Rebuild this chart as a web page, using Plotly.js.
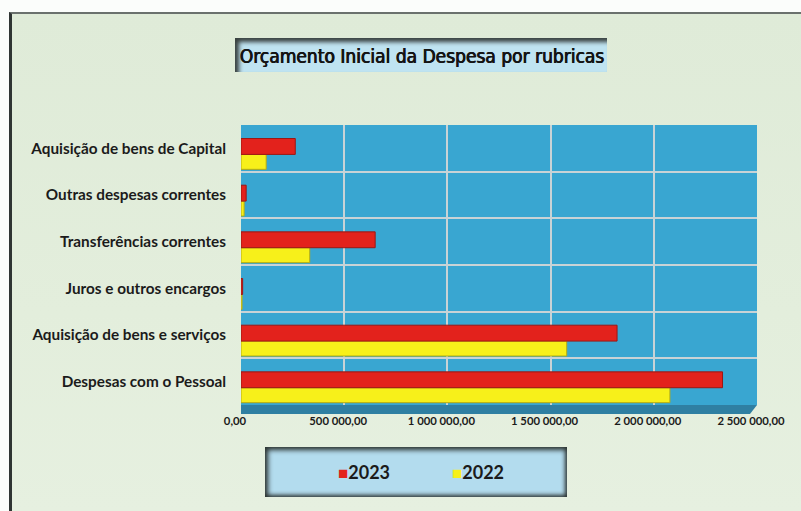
<!DOCTYPE html>
<html>
<head>
<meta charset="utf-8">
<script src="https://cdn.plot.ly/plotly-3.0.1.min.js"></script>
<style>
  html, body { margin: 0; padding: 0; width: 801px; height: 511px; overflow: hidden; background: #fbfdfb; }
  #frame { position: absolute; left: 9px; top: 12px; width: 792px; height: 499px;
           background: linear-gradient(180deg, #dfebd8 0%, #e3eedc 60%, #e6f0e0 100%);
           border-left: 3px solid #2f3533; border-top: 2px solid #6a716d; box-sizing: border-box; }
  #titlebox { position: absolute; left: 235px; top: 38px; width: 372px; height: 34px;
              background: #bfe3f1; box-shadow: inset 4px 4px 4px #39413f; }
  #legbox { position: absolute; left: 265px; top: 447px; width: 302px; height: 50px;
            background: #b3dcee; box-shadow: inset 3px 3px 5px #2c3331, inset -2px -2px 4px #2c3331; }
  #chart { position: absolute; left: 0; top: 0; width: 801px; height: 511px; }
</style>
</head>
<body>
<div id="frame"></div>
<div id="titlebox"></div>
<div id="legbox"></div>
<div id="chart"></div>
<script>
// ---- data ----
const categories = [
  "Despesas com o Pessoal",
  "Aquisição de bens e serviços",
  "Juros e outros encargos",
  "Transferências correntes",
  "Outras despesas correntes",
  "Aquisição de bens de Capital"
];
const values2023 = [2333000, 1822000, 8000, 650000, 25000, 263000];
const values2022 = [2078000, 1578000, 5000, 333000, 15000, 122000];
const seriesNames = ["2023", "2022"];
const xTickVals = [0, 500000, 1000000, 1500000, 2000000, 2500000];

// ---- layout helpers ----
const W = 801, H = 511;
const M = { l: 241, r: 44, t: 125, b: 106 };
const px2x = px => (px - M.l) / (W - M.l - M.r);
const px2y = py => (H - M.b - py) / (H - M.t - M.b);

const red = "#e3221c", yellow = "#f7f01a";
const labelFamily = "Lato, Liberation Sans, sans-serif";
const labelFont = { family: labelFamily, size: 15.3, color: "#1b1b1b", weight: "bold" };

const traces = [
  {
    type: "bar", orientation: "h", name: seriesNames[1],
    y: categories, x: values2022,
    width: 0.32, offset: -0.45,
    marker: { color: yellow, line: { color: "#b7ad12", width: 1 } },
    hoverinfo: "x+y"
  },
  {
    type: "bar", orientation: "h", name: seriesNames[0],
    y: categories, x: values2023,
    width: 0.34, offset: -0.13,
    marker: { color: red, line: { color: "#9c1713", width: 1 } },
    hoverinfo: "x+y"
  }
];

const legendItem = (color, name) =>
  `<span style="color:${color};font-size:17px">■</span>${name}`;

const layout = {
  width: W, height: H,
  margin: M,
  paper_bgcolor: "rgba(0,0,0,0)",
  plot_bgcolor: "#39a6d1",
  barmode: "overlay",
  separators: ", ",
  showlegend: false,
  title: {
    text: "Orçamento Inicial da Despesa por rubricas",
    font: { family: "DejaVu Sans Condensed, sans-serif", size: 19, color: "#141414",
            shadow: "0.5px 0 0 #141414, -0.3px 0 0 #141414" },
    xref: "container", yref: "container",
    x: 422 / W, y: 1 - 56 / H, xanchor: "center", yanchor: "middle"
  },
  xaxis: {
    range: [0, 2500000],
    tickvals: xTickVals,
    tickformat: ",.2f",
    showgrid: true, gridcolor: "#c9d3d6", gridwidth: 2,
    zeroline: false, showline: false, ticks: "",
    ticklabelstandoff: 8, ticklabelshift: -6,
    tickfont: { family: labelFamily, size: 11.3, color: "#1b1b1b", weight: "bold" },
    fixedrange: true
  },
  yaxis: {
    type: "category",
    categoryorder: "array", categoryarray: categories,
    range: [-0.5, 5.5],
    tickson: "boundaries",
    showgrid: true, gridcolor: "#c9d3d6", gridwidth: 2,
    zeroline: false, showline: false, ticks: "",
    ticklabelstandoff: 14,
    tickfont: labelFont,
    fixedrange: true
  },
  shapes: [
    { // floor strip of the 3D wall
      type: "path", xref: "paper", yref: "paper",
      path: `M 0 ${px2y(414)} L ${px2x(750)} ${px2y(414)} L 1 0 L 0 0 Z`,
      fillcolor: "#2f7fa2", line: { width: 0 }, layer: "below"
    }
  ],
  annotations: [
    {
      xref: "paper", yref: "paper", x: px2x(364), y: px2y(472),
      text: legendItem(red, seriesNames[0]),
      showarrow: false, xanchor: "center", yanchor: "middle",
      font: { family: labelFamily, size: 18, color: "#1b1b1b", weight: "bold" }
    },
    {
      xref: "paper", yref: "paper", x: px2x(478), y: px2y(472),
      text: legendItem(yellow, seriesNames[1]),
      showarrow: false, xanchor: "center", yanchor: "middle",
      font: { family: labelFamily, size: 18, color: "#1b1b1b", weight: "bold" }
    }
  ]
};

Plotly.newPlot("chart", traces, layout, { displayModeBar: false, staticPlot: true });
</script>
</body>
</html>
